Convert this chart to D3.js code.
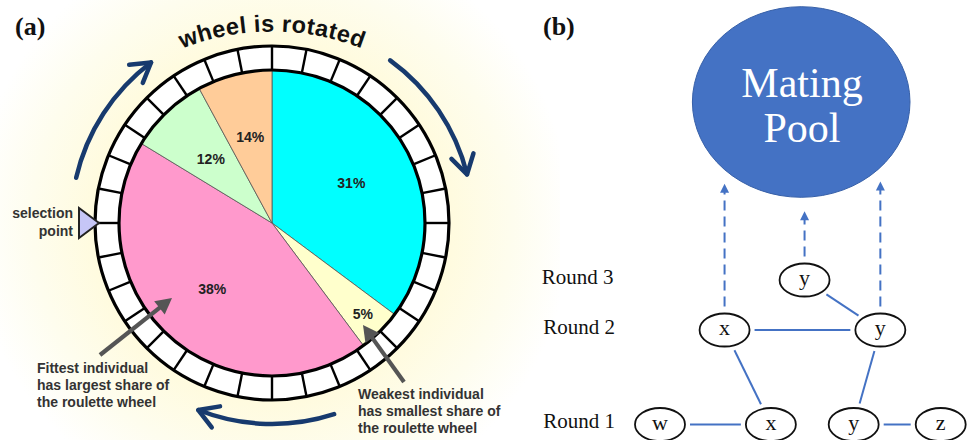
<!DOCTYPE html>
<html><head><meta charset="utf-8">
<script src="https://cdn.jsdelivr.net/npm/d3@7"></script>
<style>html,body{margin:0;padding:0;background:#fff;} svg{display:block;}</style>
</head><body>
<svg id="chart" width="969" height="440"></svg>
<script>
// ---------------- data ----------------
// (a) roulette wheel
const wedgeLabels = ["31%", "5%", "38%", "12%", "14%"];
const wedgeShares = [35.2, 4.6, 43.9, 8.4, 7.9];   // angular share of each wedge as drawn on the wheel
const wedgeColors = ["#00ffff", "#ffffcc", "#ff99cc", "#ccffcc", "#ffcc99"];
const ringSegments = 32;
const rotationArrows = [[283, 323], [36, 76], [162, 201.5]]; // degrees, clockwise from top
const fittestNote = ["Fittest individual", "has largest share of", "the roulette wheel"];
const weakestNote = ["Weakest individual", "has smallest share of", "the roulette wheel"];
const selectionNote = ["selection", "point"];
// (b) tournament selection
const roundLabels = ["Round 1", "Round 2", "Round 3"];
const nodeIds = ["w1", "x1", "y1", "z1", "x2", "y2", "y3"];
const nodeLetters = ["w", "x", "y", "z", "x", "y", "y"];
const nodeRounds = [1, 1, 1, 1, 2, 2, 3];
const nodeSlots = [0, 3.95, 6.9, 10, 2.3, 7.85, 5.15];
const matches = [["w1", "x1"], ["y1", "z1"], ["x1", "x2"], ["y1", "y2"], ["x2", "y2"], ["y3", "y2"]];
const selected = ["x2", "y3", "y2"];

// ---------------- drawing ----------------
const svg = d3.select("#chart");
const defs = svg.append("defs");
const SANS = "'Liberation Sans', Arial, sans-serif";
const SERIF = "'Liberation Serif', 'Times New Roman', serif";

const cx = 272, cy = 223, R = 153, RO = 177;

const grad = defs.append("radialGradient").attr("id", "glow")
  .attr("gradientUnits", "userSpaceOnUse").attr("cx", cx).attr("cy", cy).attr("r", 300);
[[0, "#fffad8"], [0.6, "#fffbdf"], [0.8, "#fefdee"], [1, "#ffffff"]]
  .forEach(([o, c]) => grad.append("stop").attr("offset", o).attr("stop-color", c));
svg.append("rect").attr("width", 969).attr("height", 440).attr("fill", "#fff");
svg.append("rect").attr("width", 560).attr("height", 440).attr("fill", "url(#glow)");

// panel letters
svg.append("text").attr("x", 15).attr("y", 35).text("(a)")
  .attr("font-family", SERIF).attr("font-weight", "bold").attr("font-size", 26).attr("fill", "#111");
svg.append("text").attr("x", 543).attr("y", 35).text("(b)")
  .attr("font-family", SERIF).attr("font-weight", "bold").attr("font-size", 26).attr("fill", "#111");

// ---- wheel ----
const wheel = svg.append("g").attr("transform", `translate(${cx},${cy})`);
wheel.append("path")
  .attr("d", d3.arc().innerRadius(R).outerRadius(RO).startAngle(0).endAngle(2 * Math.PI)())
  .attr("fill", "#fff");
const tickAngles = d3.range(ringSegments).map(i => i * 2 * Math.PI / ringSegments);
wheel.selectAll("line.tick").data(tickAngles).join("line").attr("class", "tick")
  .attr("x1", a => R * Math.sin(a)).attr("y1", a => -R * Math.cos(a))
  .attr("x2", a => RO * Math.sin(a)).attr("y2", a => -RO * Math.cos(a))
  .attr("stroke", "#000").attr("stroke-width", 2.4);

const wedges = wedgeShares.map((s, i) => ({ share: s, label: wedgeLabels[i] }));
const color = d3.scaleOrdinal().domain(wedgeLabels).range(wedgeColors);
const arcs = d3.pie().sort(null).value(d => d.share)(wedges);
const arc = d3.arc().innerRadius(0).outerRadius(R);
wheel.selectAll("path.wedge").data(arcs).join("path").attr("class", "wedge")
  .attr("d", arc).attr("fill", d => color(d.data.label))
  .attr("stroke", "#555").attr("stroke-width", 0.8);
wheel.append("circle").attr("r", R).attr("fill", "none").attr("stroke", "#000").attr("stroke-width", 3.2);
wheel.append("circle").attr("r", RO).attr("fill", "none").attr("stroke", "#000").attr("stroke-width", 3.2);

wheel.selectAll("text.pct").data(arcs).join("text").attr("class", "pct")
  .attr("transform", d => {
    const lr = d.data.share < 6 ? 0.84 * R : 0.58 * R;
    return `translate(${d3.arc().innerRadius(lr).outerRadius(lr).centroid(d)})`;
  })
  .attr("text-anchor", "middle").attr("dy", "0.36em")
  .attr("font-family", SANS).attr("font-weight", "bold").attr("font-size", 14).attr("fill", "#222")
  .text(d => d.data.label);

// curved title
const tR = 245, tcx = cx, tcy = 31.5 + tR, tA = 55 * Math.PI / 180;
defs.append("path").attr("id", "titlePath")
  .attr("d", `M${tcx - tR * Math.sin(tA)},${tcy - tR * Math.cos(tA)} A${tR},${tR} 0 0 1 ${tcx + tR * Math.sin(tA)},${tcy - tR * Math.cos(tA)}`);
svg.append("text").attr("font-family", SANS).attr("font-weight", "bold").attr("font-size", 23.5)
  .attr("letter-spacing", 0.4).attr("fill", "#111")
  .append("textPath").attr("href", "#titlePath").attr("startOffset", "50%").attr("text-anchor", "middle")
  .text("wheel is rotated");

// rotation arrows
const rA = 201, navy = "#173a6e";
rotationArrows.forEach(([a0, a1]) => {
  const r0 = a0 * Math.PI / 180, r1 = a1 * Math.PI / 180;
  const p = d3.path();
  p.arc(cx, cy, rA, r0 - Math.PI / 2, r1 - Math.PI / 2, false);
  svg.append("path").attr("d", p.toString()).attr("fill", "none")
    .attr("stroke", navy).attr("stroke-width", 4.5).attr("stroke-linecap", "round");
  const tx = cx + rA * Math.sin(r1), ty = cy - rA * Math.cos(r1);
  const back = Math.atan2(-Math.sin(r1), -Math.cos(r1));
  const L = 22, spread = 31 * Math.PI / 180;
  const h = d3.path();
  h.moveTo(tx + L * Math.cos(back + spread), ty + L * Math.sin(back + spread));
  h.lineTo(tx, ty);
  h.lineTo(tx + L * Math.cos(back - spread), ty + L * Math.sin(back - spread));
  svg.append("path").attr("d", h.toString()).attr("fill", "none")
    .attr("stroke", navy).attr("stroke-width", 4.5).attr("stroke-linecap", "round").attr("stroke-linejoin", "round");
});

// selection point
const tipX = cx - RO + 4;
svg.append("path")
  .attr("d", `M${tipX},${cy} L${tipX - 20},${cy - 15} L${tipX - 20},${cy + 15} Z`)
  .attr("fill", "#c6c6f7").attr("stroke", "#222").attr("stroke-width", 2).attr("stroke-linejoin", "miter");
svg.append("g").selectAll("text").data(selectionNote).join("text")
  .attr("x", 73).attr("y", (d, i) => 218 + i * 17.5).attr("text-anchor", "end")
  .attr("font-family", SANS).attr("font-weight", "bold").attr("font-size", 14).attr("fill", "#333")
  .text(d => d);

// annotation arrows
function grayArrow(x0, y0, x1, y1) {
  const dx = x1 - x0, dy = y1 - y0, len = Math.hypot(dx, dy), ux = dx / len, uy = dy / len;
  const hl = 16, hw = 8.5, bx = x1 - ux * hl, by = y1 - uy * hl;
  svg.append("line").attr("x1", x0).attr("y1", y0).attr("x2", bx + ux * 2).attr("y2", by + uy * 2)
    .attr("stroke", "#555").attr("stroke-width", 4.2);
  svg.append("path").attr("d", `M${x1},${y1} L${bx - uy * hw},${by + ux * hw} L${bx + uy * hw},${by - ux * hw} Z`)
    .attr("fill", "#555");
}
grayArrow(100, 355, 172, 298);
grayArrow(404, 382, 363, 325);

svg.append("g").selectAll("text").data(fittestNote).join("text")
  .attr("x", 37).attr("y", (d, i) => 373 + i * 17)
  .attr("font-family", SANS).attr("font-weight", "bold").attr("font-size", 14).attr("fill", "#333")
  .text(d => d);
svg.append("g").selectAll("text").data(weakestNote).join("text")
  .attr("x", 358).attr("y", (d, i) => 399 + i * 16.8)
  .attr("font-family", SANS).attr("font-weight", "bold").attr("font-size", 14).attr("fill", "#333")
  .text(d => d);

// ---- panel (b) ----
const blue = "#4472c4";
const pool = { cx: 801.2, cy: 102, rx: 108.8, ry: 95.3 };
svg.append("ellipse").attr("cx", pool.cx).attr("cy", pool.cy).attr("rx", pool.rx).attr("ry", pool.ry)
  .attr("fill", blue).attr("stroke", "#3760a8").attr("stroke-width", 1);
svg.append("text").attr("x", 802).attr("y", 96.7).attr("text-anchor", "middle")
  .attr("font-family", SERIF).attr("font-size", 42).attr("fill", "#fff").text("Mating");
svg.append("text").attr("x", 802).attr("y", 141.7).attr("text-anchor", "middle")
  .attr("font-family", SERIF).attr("font-size", 42).attr("fill", "#fff").text("Pool");

const xSlot = d3.scaleLinear().domain([0, 10]).range([660, 940.7]);
const yRound = d3.scaleLinear().domain([1, 2, 3]).range([424.5, 330, 280]);
const NRX = 25, NRY = 16.5;
const nodes = nodeIds.map((id, i) => ({ id, letter: nodeLetters[i], x: xSlot(nodeSlots[i]), y: yRound(nodeRounds[i]) }));
const byId = new Map(nodes.map(n => [n.id, n]));

svg.append("g").selectAll("text").data(roundLabels).join("text")
  .attr("x", (d, i) => i === 2 ? 541.7 : 543.3).attr("y", (d, i) => yRound(i + 1) + 3.5)
  .attr("font-family", SERIF).attr("font-size", 21).attr("fill", "#111").text(d => d);

function edgePoint(n, ux, uy, gap) {
  const t = 1 / Math.sqrt((ux / NRX) ** 2 + (uy / NRY) ** 2);
  return [n.x + ux * (t + gap), n.y + uy * (t + gap)];
}
matches.forEach(([a, b]) => {
  const A = byId.get(a), B = byId.get(b);
  const dx = B.x - A.x, dy = B.y - A.y, len = Math.hypot(dx, dy), ux = dx / len, uy = dy / len;
  const p0 = edgePoint(A, ux, uy, 5), p1 = edgePoint(B, -ux, -uy, 5);
  svg.append("line").attr("x1", p0[0]).attr("y1", p0[1]).attr("x2", p1[0]).attr("y2", p1[1])
    .attr("stroke", blue).attr("stroke-width", 2);
});

selected.forEach(id => {
  const n = byId.get(id);
  const y0 = n.y - NRY - 7;
  const tipY = pool.cy + pool.ry * Math.sqrt(1 - ((n.x - pool.cx) / pool.rx) ** 2) + 14;
  svg.append("line").attr("x1", n.x).attr("y1", y0).attr("x2", n.x).attr("y2", tipY + 8)
    .attr("stroke", blue).attr("stroke-width", 2).attr("stroke-dasharray", "10,6");
  svg.append("path").attr("d", `M${n.x},${tipY} L${n.x - 4.5},${tipY + 9} L${n.x + 4.5},${tipY + 9} Z`)
    .attr("fill", blue);
});

const ng = svg.append("g").selectAll("g").data(nodes).join("g")
  .attr("transform", d => `translate(${d.x},${d.y})`);
ng.append("ellipse").attr("rx", NRX).attr("ry", NRY).attr("fill", "#fff")
  .attr("stroke", "#111").attr("stroke-width", 1.8);
ng.append("text").attr("y", 5).attr("text-anchor", "middle")
  .attr("font-family", SERIF).attr("font-size", 22).attr("fill", "#111").text(d => d.letter);
</script>
</body></html>
